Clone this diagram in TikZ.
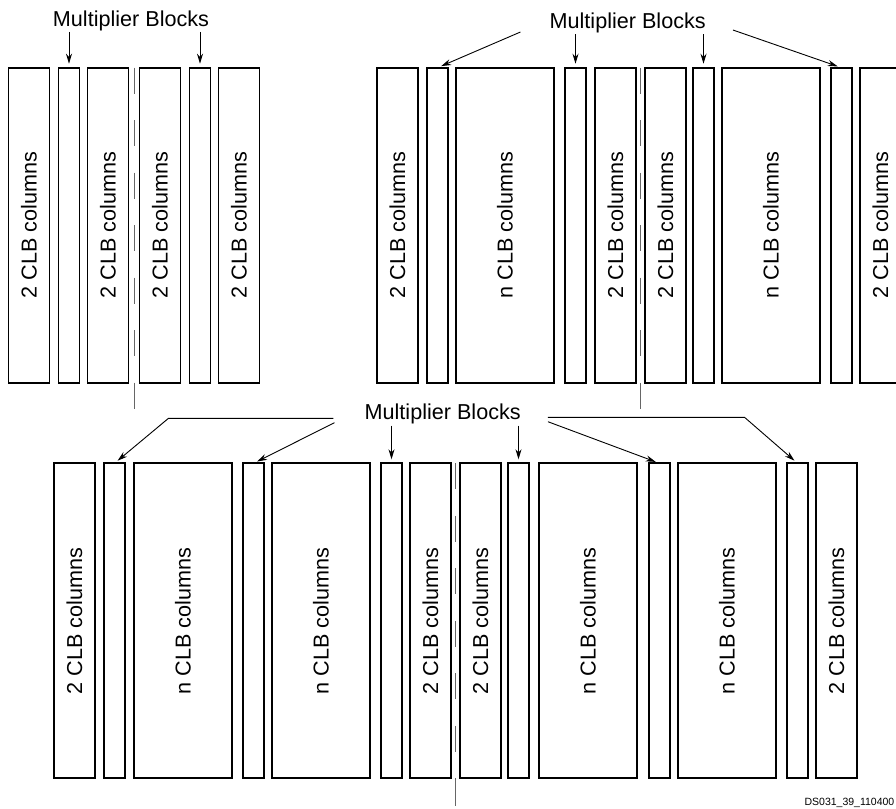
\documentclass[tikz,border=0pt]{standalone}
\usepackage{fontspec}
\setmainfont{Liberation Sans}
\usepackage{graphicx}
\usepackage{tikz}
\usetikzlibrary{arrows.meta, positioning, calc}
\tikzset{
    clb/.style={rectangle, draw, line width=1.9pt, minimum width=41pt, minimum height=315pt, inner sep=0pt, outer sep=0pt},
    ncol/.style={clb, minimum width=98pt},
    mult/.style={clb, minimum width=21pt},
    blocklabel/.style={inner sep=1pt},
    arrow/.style={-{Stealth[length=10pt, width=6pt]}, line width=0.9pt, shorten >=4pt},
    split/.style={draw=black!60, line width=1pt}
}

\begin{document}
\begin{tikzpicture}[x=1pt, y=-1pt, every node/.style={font=\fontsize{21.6}{26}\selectfont}]
        \useasboundingbox (0,0) rectangle (896,808);
        \node[clb, anchor=north west] (tl1) at (8.5,67.7) {\rotatebox{90}{2 CLB columns}};
        \node[mult, right=9pt of tl1] (tl2) {};
        \node[clb, right=8pt of tl2] (tl3) {\rotatebox{90}{2 CLB columns}};
        \node[clb, right=11pt of tl3] (tl4) {\rotatebox{90}{2 CLB columns}};
        \node[mult, right=9pt of tl4] (tl5) {};
        \node[clb, right=8pt of tl5] (tl6) {\rotatebox{90}{2 CLB columns}};
        \node[clb, anchor=north west] (tr1) at (377,67.7) {\rotatebox{90}{2 CLB columns}};
        \node[mult, right=9pt of tr1] (tr2) {};
        \node[ncol, right=8pt of tr2] (tr3) {\rotatebox{90}{n CLB columns}};
        \node[mult, right=11pt of tr3] (tr4) {};
        \node[clb, right=9pt of tr4] (tr5) {\rotatebox{90}{2 CLB columns}};
        \node[clb, right=9pt of tr5] (tr6) {\rotatebox{90}{2 CLB columns}};
        \node[mult, right=7pt of tr6] (tr7) {};
        \node[ncol, right=8pt of tr7] (tr8) {\rotatebox{90}{n CLB columns}};
        \node[mult, right=11pt of tr8] (tr9) {};
        \node[clb, right=8pt of tr9] (tr10) {\rotatebox{90}{2 CLB columns}};
        \node[clb, anchor=north west] (b1) at (54,463.3) {\rotatebox{90}{2 CLB columns}};
        \node[mult, right=9pt of b1] (b2) {};
        \node[ncol, right=9pt of b2] (b3) {\rotatebox{90}{n CLB columns}};
        \node[mult, right=11pt of b3] (b4) {};
        \node[ncol, right=8pt of b4] (b5) {\rotatebox{90}{n CLB columns}};
        \node[mult, right=11pt of b5] (b6) {};
        \node[clb, right=8pt of b6] (b7) {\rotatebox{90}{2 CLB columns}};
        \node[clb, right=9pt of b7] (b8) {\rotatebox{90}{2 CLB columns}};
        \node[mult, right=7pt of b8] (b9) {};
        \node[ncol, right=10pt of b9] (b10) {\rotatebox{90}{n CLB columns}};
        \node[mult, right=12pt of b10] (b11) {};
        \node[ncol, right=8pt of b11] (b12) {\rotatebox{90}{n CLB columns}};
        \node[mult, right=11pt of b12] (b13) {};
        \node[clb, right=8pt of b13] (b14) {\rotatebox{90}{2 CLB columns}};
        \node[blocklabel] (tllab) at (131,20.7) {Multiplier Blocks};
        \node[blocklabel] (trlab) at (627.7,23) {Multiplier Blocks};
        \node[blocklabel] (blab) at (442.7,414.3) {Multiplier Blocks};
        \draw[arrow] (tllab.south -| tl2.north) -- (tl2.north);
        \draw[arrow] (tllab.south -| tl5.north) -- (tl5.north);
        \coordinate (trl) at ($(trlab.west)+(-28,9)$);
        \coordinate (trr) at ($(trlab.east)+(26,7)$);
        \draw[arrow] (trl) -- (tr2.north);
        \draw[arrow] (trlab.south -| tr4.north) -- (tr4.north);
        \draw[arrow] (trlab.south -| tr7.north) -- (tr7.north);
        \draw[arrow] (trr) -- (tr9.north);
        \coordinate (bl1) at ($(blab.west)+(-30,4)$);
        \coordinate (bl1k) at ($(bl1)+(-165,0)$);
        \coordinate (bl2) at ($(blab.west)+(-29,8.4)$);
        \coordinate (br1) at ($(blab.east)+(26,7.4)$);
        \coordinate (br2) at ($(blab.east)+(26,3)$);
        \coordinate (br2k) at ($(br2)+(196.6,0)$);
        \draw[arrow] (bl1) -- (bl1k) -- (b2.north);
        \draw[arrow] (bl2) -- (b4.north);
        \draw[arrow] (blab.south -| b6.north) -- (b6.north);
        \draw[arrow] (blab.south -| b9.north) -- (b9.north);
        \draw[arrow] (br1) -- (b11.north);
        \draw[arrow] (br2) -- (br2k) -- (b13.north);
        \coordinate (tlcut) at ($(tl3.north east)!0.5!(tl4.north west)$);
        \coordinate (trcut) at ($(tr5.north east)!0.5!(tr6.north west)$);
        \coordinate (bcut) at ($(b7.north east)!0.5!(b8.north west)$);
        \draw[split, dash pattern=on 26pt off 26.5pt] (tlcut) -- ++(0,315);
        \draw[split] ($(tlcut)+(0,315)$) -- ++(0,26);
        \draw[split, dash pattern=on 26pt off 26.5pt] (trcut) -- ++(0,315);
        \draw[split] ($(trcut)+(0,315)$) -- ++(0,26);
        \draw[split, dash pattern=on 26pt off 26.5pt] (bcut) -- ++(0,315);
        \draw[split] ($(bcut)+(0,315)$) -- ++(0,28);
        \node[anchor=east, inner sep=1pt, font=\fontsize{10.5}{12}\selectfont] (code) at (895.5,803) {DS031\_39\_110400};
    \end{tikzpicture}
\end{document}
